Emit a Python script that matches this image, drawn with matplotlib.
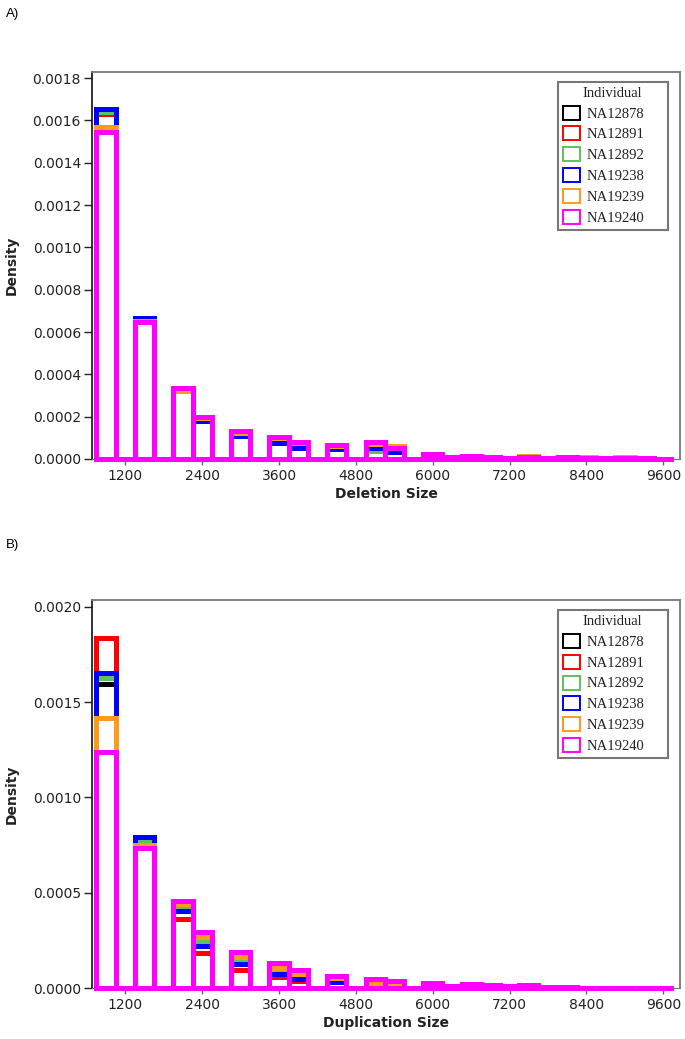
import matplotlib
matplotlib.use("Agg")
import matplotlib.pyplot as plt
from matplotlib.patches import Patch
from matplotlib.ticker import FormatStrFormatter
import numpy as np

# ---------------- data ----------------
individuals = ["NA12878", "NA12891", "NA12892", "NA19238", "NA19239", "NA19240"]
colors = ["#000000", "#ff0000", "#5cc35c", "#0000ff", "#ff9a1a", "#ff00ff"]

bin_width = 300
bin_left = list(range(750, 9750, 300))   # 30 bins, 750 .. 9750

# Panel A: deletion size densities (per bin)
del_NA12878 = [0.001636, 0, 0.000655, 0, 0.000328, 0.000192, 0, 0.000118, 0, 0.000080, 0.000058, 0, 0.000050, 0, 0.000060, 0.000045, 0, 0.000022, 0.000007, 0.000013, 0.000008, 0.000003, 0.000010, 0.000003, 0.000008, 0.000006, 0.000002, 0.000004, 0.000002, 0.000001]
del_NA12891 = [0.001630, 0, 0.000655, 0, 0.000330, 0.000189, 0, 0.000120, 0, 0.000085, 0.000062, 0, 0.000052, 0, 0.000065, 0.000048, 0, 0.000024, 0.000007, 0.000014, 0.000009, 0.000004, 0.000011, 0.000003, 0.000009, 0.000006, 0.000003, 0.000005, 0.000002, 0.000001]
del_NA12892 = [0.001638, 0, 0.000650, 0, 0.000325, 0.000190, 0, 0.000120, 0, 0.000090, 0.000070, 0, 0.000050, 0, 0.000040, 0.000040, 0, 0.000022, 0.000007, 0.000014, 0.000009, 0.000003, 0.000010, 0.000003, 0.000008, 0.000007, 0.000002, 0.000004, 0.000002, 0.000001]
del_NA19238 = [0.001655, 0, 0.000665, 0, 0.000320, 0.000181, 0, 0.000110, 0, 0.000077, 0.000054, 0, 0.000046, 0, 0.000054, 0.000035, 0, 0.000020, 0.000006, 0.000012, 0.000008, 0.000003, 0.000009, 0.000003, 0.000007, 0.000006, 0.000002, 0.000004, 0.000002, 0.000001]
del_NA19239 = [0.001567, 0, 0.000652, 0, 0.000322, 0.000195, 0, 0.000125, 0, 0.000100, 0.000080, 0, 0.000060, 0, 0.000070, 0.000061, 0, 0.000025, 0.000008, 0.000015, 0.000010, 0.000004, 0.000012, 0.000004, 0.000010, 0.000008, 0.000003, 0.000008, 0.000003, 0.000002]
del_NA19240 = [0.001543, 0, 0.000649, 0, 0.000334, 0.000200, 0, 0.000132, 0, 0.000106, 0.000082, 0, 0.000066, 0, 0.000082, 0.000054, 0, 0.000024, 0.000008, 0.000014, 0.000010, 0.000004, 0.000011, 0.000004, 0.000009, 0.000007, 0.000003, 0.000005, 0.000003, 0.000002]

# Panel B: duplication size densities (per bin)
dup_NA12878 = [0.001593, 0, 0.000777, 0, 0.000420, 0.000235, 0, 0.000143, 0, 0.000093, 0.000060, 0, 0.000040, 0, 0.000035, 0.000025, 0, 0.000022, 0.000008, 0.000016, 0.000010, 0.000006, 0.000012, 0.000004, 0.000004, 0.000003, 0.000003, 0.000003, 0.000003, 0.000003]
dup_NA12891 = [0.001838, 0, 0.000763, 0, 0.000362, 0.000183, 0, 0.000096, 0, 0.000058, 0.000040, 0, 0.000040, 0, 0.000026, 0.000020, 0, 0.000018, 0.000007, 0.000014, 0.000008, 0.000005, 0.000010, 0.000003, 0.000003, 0.000003, 0.000003, 0.000003, 0.000003, 0.000003]
dup_NA12892 = [0.001624, 0, 0.000770, 0, 0.000430, 0.000250, 0, 0.000150, 0, 0.000100, 0.000060, 0, 0.000045, 0, 0.000035, 0.000025, 0, 0.000022, 0.000008, 0.000016, 0.000010, 0.000006, 0.000012, 0.000004, 0.000004, 0.000003, 0.000003, 0.000003, 0.000003, 0.000003]
dup_NA19238 = [0.001651, 0, 0.000795, 0, 0.000407, 0.000222, 0, 0.000126, 0, 0.000073, 0.000049, 0, 0.000031, 0, 0.000020, 0.000018, 0, 0.000018, 0.000007, 0.000014, 0.000008, 0.000005, 0.000010, 0.000003, 0.000003, 0.000003, 0.000003, 0.000003, 0.000003, 0.000003]
dup_NA19239 = [0.001415, 0, 0.000750, 0, 0.000440, 0.000271, 0, 0.000166, 0, 0.000108, 0.000075, 0, 0.000052, 0, 0.000030, 0.000030, 0, 0.000025, 0.000009, 0.000018, 0.000011, 0.000007, 0.000014, 0.000004, 0.000004, 0.000003, 0.000003, 0.000003, 0.000003, 0.000003]
dup_NA19240 = [0.001240, 0, 0.000734, 0, 0.000459, 0.000297, 0, 0.000192, 0, 0.000134, 0.000096, 0, 0.000066, 0, 0.000049, 0.000038, 0, 0.000030, 0.000012, 0.000023, 0.000015, 0.000010, 0.000018, 0.000006, 0.000005, 0.000004, 0.000004, 0.000004, 0.000004, 0.000004]

del_series = [del_NA12878, del_NA12891, del_NA12892, del_NA19238, del_NA19239, del_NA19240]
dup_series = [dup_NA12878, dup_NA12891, dup_NA12892, dup_NA19238, dup_NA19239, dup_NA19240]

x_ticks = [1200, 2400, 3600, 4800, 6000, 7200, 8400, 9600]
del_yticks = [0.0, 0.0002, 0.0004, 0.0006, 0.0008, 0.0010, 0.0012, 0.0014, 0.0016, 0.0018]
dup_yticks = [0.0, 0.0005, 0.0010, 0.0015, 0.0020]

# ---------------- figure ----------------
W, H = 685, 1039
fig = plt.figure(figsize=(W / 100, H / 100), dpi=100)

def fx(px):
    return px / W

def fy(py):
    return 1 - py / H

axA = fig.add_axes([fx(92), fy(459), fx(680) - fx(92), fy(71.7) - fy(459)])
axB = fig.add_axes([fx(92), fy(988.3), fx(680) - fx(92), fy(600) - fy(988.3)])

def draw_panel(ax, series, yticks, ylim_top, xlabel):
    for vals, c in zip(series, colors):
        ax.bar(bin_left, vals, width=bin_width, align="edge", fill=False,
               edgecolor=c, linewidth=3.6, clip_on=False, zorder=3,
               joinstyle="miter")
    ax.set_xlim(680, 9860)
    ax.set_ylim(0, ylim_top)
    ax.set_xticks(x_ticks)
    ax.set_yticks(yticks)
    ax.yaxis.set_major_formatter(FormatStrFormatter("%.4f"))
    ax.tick_params(axis="y", direction="out", length=6, width=1.0, color="#222222",
                   labelsize=10, pad=2, labelcolor="#222222")
    ax.tick_params(axis="x", direction="out", length=4, width=1.0, color="#666666",
                   labelsize=10, pad=3, labelcolor="#222222")
    for s in ["top", "right"]:
        ax.spines[s].set_color("#777777")
        ax.spines[s].set_linewidth(1.3)
    ax.spines["left"].set_color("#111111")
    ax.spines["left"].set_linewidth(1.2)
    ax.spines["bottom"].set_color("#777777")
    ax.set_xlabel(xlabel, fontsize=10, fontweight="bold", labelpad=3, color="#222222")
    ax.set_ylabel("Density", fontsize=10, fontweight="bold", labelpad=10, color="#222222")

    handles = [Patch(facecolor="none", edgecolor=c, linewidth=1.4) for c in colors]
    leg = ax.legend(handles, individuals, title="Individual", loc="upper left",
                    bbox_to_anchor=(0.792, 0.5, 0.187, 0.4742), mode="expand",
                    borderaxespad=0, prop={"family": "Liberation Serif", "size": 10.5},
                    title_fontproperties={"family": "Liberation Serif", "size": 10.5},
                    frameon=True, fancybox=False, edgecolor="#555555",
                    handlelength=1.2, handleheight=1.1, handletextpad=0.45,
                    labelspacing=0.4, borderpad=0.35)
    leg.get_frame().set_linewidth(1.5)
    for t in leg.get_texts():
        t.set_color("#222222")
    leg.get_title().set_color("#222222")

draw_panel(axA, del_series, del_yticks, 0.00183, "Deletion Size")
draw_panel(axB, dup_series, dup_yticks, 0.002035, "Duplication Size")

fig.text(fx(6), fy(14), "A)", fontsize=9.5, family="Liberation Sans", va="center", ha="left")
fig.text(fx(6), fy(545), "B)", fontsize=9.5, family="Liberation Sans", va="center", ha="left")

fig.savefig("out.png", dpi=100)
